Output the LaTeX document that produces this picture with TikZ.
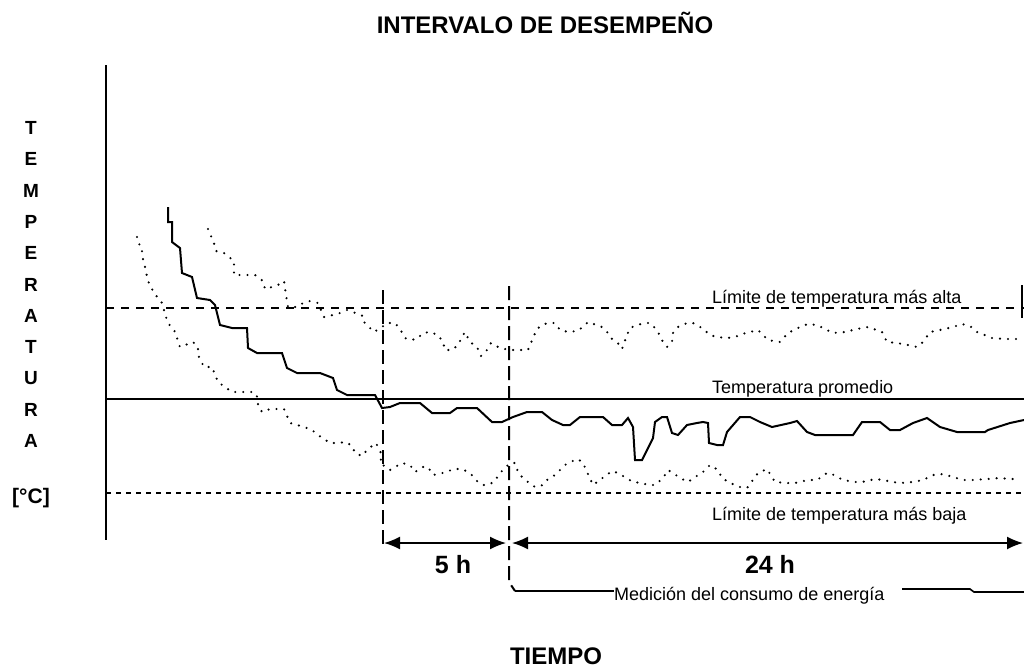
\documentclass[tikz,border=0pt]{standalone}
\usepackage{fontspec}
\setmainfont{Liberation Sans}
\usetikzlibrary{arrows.meta}
\begin{document}
\begin{tikzpicture}[x=1pt,y=-1pt,
  lbl/.style={font=\fontsize{18}{20}\selectfont, inner sep=0pt},
  ylet/.style={font=\bfseries\fontsize{19}{21}\selectfont, inner sep=0pt, anchor=base},
  bigbold/.style={font=\bfseries\fontsize{24}{26}\selectfont, inner sep=0pt, anchor=base},
  hrs/.style={font=\bfseries\fontsize{25}{27}\selectfont, inner sep=0pt, anchor=base},
  axisline/.style={line width=2pt},
  solidline/.style={line width=2pt},
  curve/.style={line width=2pt, line join=miter},
  dotcurve/.style={line width=2.4pt, line cap=round, dash pattern=on 0pt off 8pt},
  hidash/.style={line width=2pt, dash pattern=on 8pt off 7pt},
  lodash/.style={line width=1.6pt, dash pattern=on 5pt off 5pt},
  vdash/.style={line width=2pt, dash pattern=on 14pt off 6pt},
  dimarrow/.style={line width=1.6pt, {Latex[length=16pt,width=13pt]}-{Latex[length=16pt,width=13pt]}}
]
\useasboundingbox[fill=white] (0,0) rectangle (1024,670);

% title and axis titles
\node[bigbold] (title) at (545,33) {INTERVALO DE DESEMPEÑO};
\node[bigbold] (tiempo) at (556,664) {TIEMPO};
\foreach \ch [count=\i from 0] in {T,E,M,P,E,R,A,T,U,R,A}{
  \node[ylet] (yl\i) at (31,{134.5+31.3*\i}) {\ch};
}
\node[font=\bfseries\fontsize{21}{23}\selectfont, inner sep=0pt] (unit) at (31,498) {[°C]};

% axis
\coordinate (axtop) at (106,65);
\coordinate (axbot) at (106,540);
\draw[axisline] (axtop) -- (axbot);

% reference lines
\coordinate (hiL) at (106,308);
\coordinate (hiR) at (1024,308);
\coordinate (avL) at (106,399);
\coordinate (avR) at (1024,399);
\coordinate (loL) at (106,493);
\coordinate (loR) at (1024,493);
\draw[hidash] (hiL) -- (hiR);
\draw[solidline] (avL) -- (avR);
\draw[lodash] (loL) -- (loR);
\coordinate (edgeT) at (1022,285);
\coordinate (edgeB) at (1022,318);
\draw[line width=1.6pt] (edgeT) -- (edgeB);

% labels on the lines
\node[lbl, anchor=base west] (lblalta) at (712,303) {Límite de temperatura más alta};
\node[lbl, anchor=base west] (lblprom) at (712,393) {Temperatura promedio};
\node[lbl, anchor=base west] (lblbaja) at (712,520) {Límite de temperatura más baja};

% vertical dashed lines
\coordinate (v1top) at (383,290);
\coordinate (v1bot) at (383,546);
\coordinate (v2top) at (509,286);
\coordinate (v2bend) at (509,582);
\coordinate (b2) at (515,591);
\draw[vdash] (v1top) -- (v1bot);
\draw[vdash] (v2top) -- (v2bend) -- (b2);

% dimension arrows
\coordinate (a1L) at (384,543);
\coordinate (a1R) at (506,543);
\coordinate (a2L) at (512,543);
\coordinate (a2R) at (1023,543);
\draw[dimarrow] (a1L) -- (a1R);
\draw[dimarrow] (a2L) -- (a2R);
\node[hrs] (five) at (453,573) {5 h};
\node[hrs] (twentyfour) at (770,573) {24 h};

% measurement label
\node[lbl, anchor=base west] (med) at (614,600) {Medición del consumo de energía};
\draw[line width=1.6pt] (b2) -- (b2 -| med.west);
\coordinate (r1) at (902,589);
\coordinate (r2) at (970,589);
\coordinate (r3) at (974,592);
\coordinate (r4) at (1024,592);
\draw[line width=1.6pt] (r1) -- (r2) -- (r3) -- (r4);

% measured temperature (solid)
\draw[curve] (168,207) -- (168,222) -- (172,222) -- (172,242) -- (180,248) -- (182,273) -- (192,277) -- (197,298) -- (210,300) -- (215,305) -- (220,325) -- (232,328) -- (247,328) -- (248,348) -- (257,353) -- (282,353) -- (287,368) -- (297,373) -- (320,373) -- (333,378) -- (337,390) -- (347,395) -- (375,395) -- (382,408) -- (390,407) -- (400,403) -- (420,403) -- (432,413) -- (450,413) -- (457,408) -- (477,408) -- (492,422) -- (502,422) -- (513,417) -- (527,412) -- (542,412) -- (552,420) -- (563,425) -- (570,425) -- (580,417) -- (603,417) -- (612,425) -- (622,425) -- (628,418) -- (633,427) -- (635,460) -- (642,460) -- (653,438) -- (655,422) -- (662,417) -- (667,417) -- (672,433) -- (678,435) -- (687,425) -- (697,423) -- (703,422) -- (708,423) -- (709,443) -- (717,445) -- (723,445) -- (727,432) -- (740,417) -- (750,417) -- (760,422) -- (772,427) -- (790,423) -- (797,421) -- (807,432) -- (815,435) -- (853,435) -- (862,422) -- (880,422) -- (890,430) -- (900,430) -- (913,423) -- (927,418) -- (940,427) -- (957,432) -- (985,432) -- (988,430) -- (1010,423) -- (1024,420);

% upper dotted envelope
\draw[dotcurve] (208,229) -- (214,243) -- (216,251) -- (224,253) -- (234,261) -- (234,275) -- (243,275) -- (255,275) -- (263,281) -- (265,289) -- (272,287) -- (278,285) -- (284,281) -- (286,295) -- (288,307) -- (297,307) -- (303,303) -- (310,301) -- (318,303) -- (324,317) -- (333,315) -- (340,313) -- (347,310) -- (353,312) -- (363,316) -- (364,322) -- (374,332) -- (382,327) -- (387,323) -- (395,323) -- (400,329) -- (405,338) -- (410,340) -- (417,339) -- (423,333) -- (430,332) -- (438,335) -- (443,342) -- (445,350) -- (452,350) -- (458,345) -- (462,337) -- (465,332) -- (470,342) -- (477,347) -- (481,356) -- (487,350) -- (491,343) -- (500,348) -- (510,350) -- (520,350) -- (528,350) -- (533,338) -- (537,329) -- (542,325) -- (548,323) -- (555,323) -- (560,330) -- (568,332) -- (577,331) -- (583,327) -- (588,322) -- (602,327) -- (608,333) -- (612,339) -- (620,345) -- (622,349) -- (627,335) -- (630,328) -- (637,325) -- (645,323) -- (650,323) -- (657,330) -- (663,342) -- (667,347) -- (672,342) -- (673,333) -- (678,327) -- (687,323) -- (693,323) -- (702,328) -- (710,335) -- (717,337) -- (727,338) -- (735,337) -- (742,334) -- (750,332) -- (758,330) -- (768,340) -- (780,342) -- (788,333) -- (800,327) -- (808,324) -- (817,325) -- (825,329) -- (833,333) -- (845,332) -- (857,329) -- (868,327) -- (882,332) -- (887,342) -- (897,343) -- (908,345) -- (917,347) -- (923,342) -- (930,332) -- (940,330) -- (953,327) -- (962,324) -- (970,326) -- (977,332) -- (992,338) -- (1005,339) -- (1020,339);

% lower dotted envelope
\draw[dotcurve] (137,237) -- (138,243) -- (142,247) -- (142,255) -- (145,267) -- (148,281) -- (154,293) -- (162,303) -- (166,317) -- (168,323) -- (176,333) -- (178,342) -- (180,347) -- (193,342) -- (198,347) -- (198,355) -- (204,367) -- (212,367) -- (218,382) -- (232,392) -- (247,392) -- (254,392) -- (258,398) -- (258,405) -- (262,412) -- (270,409) -- (284,409) -- (290,423) -- (304,427) -- (312,430) -- (318,435) -- (324,439) -- (330,443) -- (338,443) -- (346,442) -- (352,446) -- (355,453) -- (362,456) -- (368,449) -- (376,443) -- (382,455) -- (380,463) -- (390,470) -- (402,463) -- (410,465) -- (415,472) -- (423,467) -- (428,467) -- (433,475) -- (447,472) -- (453,469) -- (462,469) -- (470,473) -- (477,481) -- (483,485) -- (487,485) -- (494,482) -- (500,473) -- (510,463) -- (515,463) -- (518,472) -- (522,477) -- (528,482) -- (535,487) -- (543,485) -- (548,479) -- (555,475) -- (562,468) -- (565,465) -- (570,462) -- (578,459) -- (583,463) -- (587,472) -- (593,485) -- (612,471) -- (618,473) -- (633,482) -- (642,483) -- (648,485) -- (655,485) -- (663,478) -- (668,470) -- (682,479) -- (688,482) -- (695,477) -- (702,473) -- (710,465) -- (718,470) -- (722,478) -- (730,483) -- (740,487) -- (747,488) -- (758,473) -- (767,469) -- (775,482) -- (787,483) -- (795,483) -- (808,480) -- (817,480) -- (827,473) -- (830,473) -- (843,480) -- (855,482) -- (862,482) -- (875,479) -- (883,480) -- (893,482) -- (900,483) -- (913,482) -- (923,480) -- (933,475) -- (943,474) -- (953,477) -- (963,480) -- (973,480) -- (987,479) -- (1000,478) -- (1010,479) -- (1020,479);
\end{tikzpicture}
\end{document}
